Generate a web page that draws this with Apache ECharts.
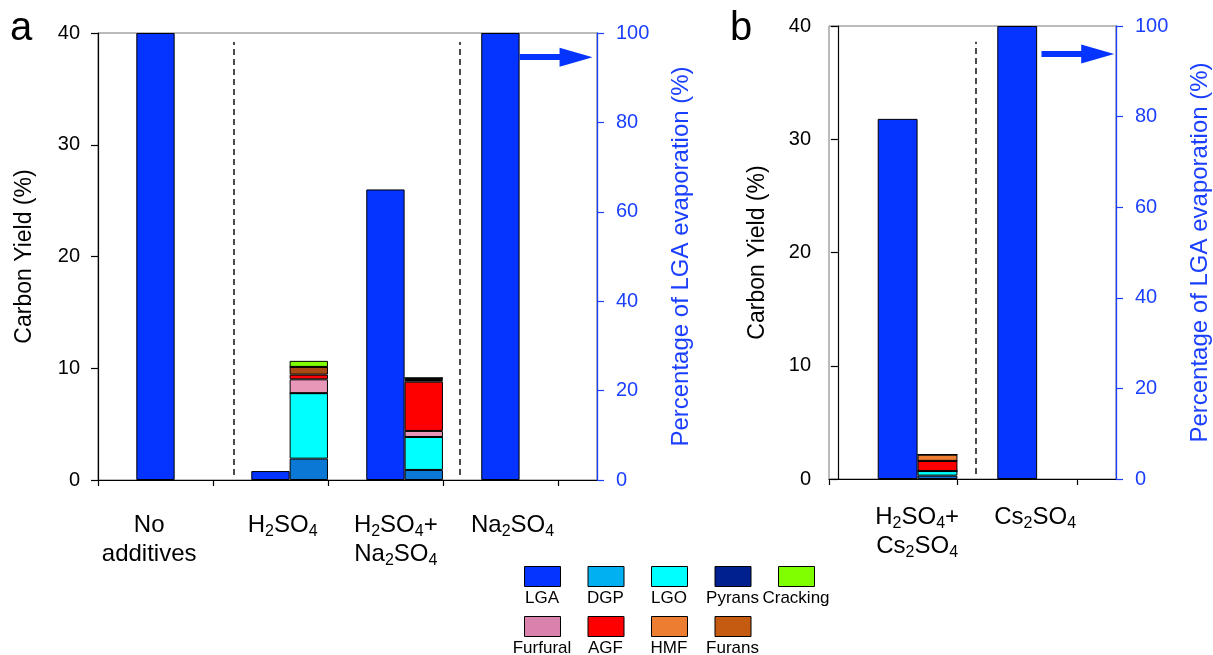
<!DOCTYPE html>
<html>
<head>
<meta charset="utf-8">
<title>Carbon yield</title>
<script src="https://cdn.jsdelivr.net/npm/echarts@6/dist/echarts.min.js"></script>
<style>
html, body { margin: 0; padding: 0; background: #fff; }
#chart { width: 1213px; height: 655px; }
</style>
</head>
<body>
<div id="chart"></div>
<script>
// ---- data ----
// labels use rich text, {s|..} = subscript
var catsA = ['No\nadditives', 'H{s|2}SO{s|4}', 'H{s|2}SO{s|4}+\nNa{s|2}SO{s|4}', 'Na{s|2}SO{s|4}'];
var catsB = ['H{s|2}SO{s|4}+\nCs{s|2}SO{s|4}', 'Cs{s|2}SO{s|4}'];
// where the figure puts the category labels (axis units)
var labelPosA = [0.445, 1.606, 2.59, 3.606];
var labelPosB = [0.663, 1.65];

var lgaA = [40, 0.8, 26.0, 40];
var dgpA = [null, 1.91, 0.9, null];
var lgoA = [null, 5.86, 2.95, null];
var pyransA = [null, 0, 0, null];
var furfuralA = [null, 1.24, 0.54, null];
var agfA = [null, 0.42, 4.41, null];
var furansA = [null, 0.69, 0.15, null];
var hmfA = [null, 0, 0.18, null];
var crackingA = [null, 0.54, 0, null];

var lgaB = [31.8, 40];
var dgpB = [0.3, null];
var lgoB = [0.4, null];
var pyransB = [0, null];
var furfuralB = [0, null];
var agfB = [0.9, null];
var furansB = [0, null];
var hmfB = [0.55, null];
var crackingB = [0, null];

var yTicks = [0, 10, 20, 30, 40];
var y2Ticks = [0, 20, 40, 60, 80, 100];
var evapA = 94.6;   // LGA evaporation arrow level (%)
var evapB = 93.8;

var legendRow1 = ['LGA', 'DGP', 'LGO', 'Pyrans', 'Cracking'];
var legendRow2 = ['Furfural', 'AGF', 'HMF', 'Furans'];

// ---- styles ----
var font = '"Liberation Sans", Arial, sans-serif';
var blue = '#0533ff';
var axisBlue = '#1a3fff';
var barColors = {
    LGA: blue, DGP: '#0a78d4', LGO: '#00ffff', Pyrans: '#002090', Furfural: '#e897b9',
    AGF: '#ff0000', Furans: '#a84a14', HMF: '#ed7d31', Cracking: '#80ff00'
};
var legendColors = {
    LGA: blue, DGP: '#00b0f0', LGO: '#00ffff', Pyrans: '#002090', Cracking: '#80ff00',
    Furfural: '#d882ad', AGF: '#ff0000', HMF: '#ed7d31', Furans: '#c55a11'
};

// stack order bottom -> top
var products = [
    {name: 'DGP', a: dgpA, b: dgpB},
    {name: 'LGO', a: lgoA, b: lgoB},
    {name: 'Pyrans', a: pyransA, b: pyransB},
    {name: 'Furfural', a: furfuralA, b: furfuralB},
    {name: 'AGF', a: agfA, b: agfB},
    {name: 'Furans', a: furansA, b: furansB},
    {name: 'HMF', a: hmfA, b: hmfB},
    {name: 'Cracking', a: crackingA, b: crackingB}
];

var gridA = {left: 98, top: 33, width: 499, height: 447};
var gridB = {left: 829, top: 26, width: 287, height: 453};
var xMinA = 0, xMaxA = 4.34;
var xMinB = -0.074, xMaxB = 2.326;
var PAIR = 2 / 3;   // bar pair sits in the right two thirds of each slot
var barA = gridA.width / (xMaxA - xMinA) / 3;
var barB = gridB.width / (xMaxB - xMinB) / 3;

// rows are [value, x] so the value column is the one that gets stacked
function rows(vals) {
    return vals.map(function (v, i) { return [v, i + PAIR]; });
}

var richSub = {s: {fontSize: 16, lineHeight: 14, verticalAlign: 'bottom', fontFamily: font}};

function xAxisFor(idx, min, max, ticks, labelPos, cats, margin) {
    return {
        gridIndex: idx, type: 'value', min: min, max: max,
        axisLine: {show: true, onZero: false, lineStyle: {color: '#000', width: 1.2}},
        axisTick: {show: true, customValues: ticks, length: 6, lineStyle: {color: '#000', width: 1.2}},
        axisLabel: {
            show: true, customValues: labelPos, margin: margin,
            fontSize: 24, lineHeight: 29, color: '#000', fontFamily: font, rich: richSub,
            formatter: function (v) {
                var k = 0;
                labelPos.forEach(function (p, i) { if (Math.abs(p - v) < 1e-6) k = i; });
                return cats[k];
            }
        },
        splitLine: {show: false}
    };
}

function leftAxis(idx, gap) {
    return {
        gridIndex: idx, type: 'value', position: 'left',
        min: yTicks[0], max: yTicks[yTicks.length - 1], interval: yTicks[1] - yTicks[0],
        name: 'Carbon Yield (%)', nameLocation: 'middle', nameGap: gap, nameMoveOverlap: false,
        nameTextStyle: {fontSize: 23, color: '#000', fontFamily: font},
        axisLine: {show: true, lineStyle: {color: '#000', width: 1.2}},
        axisTick: {show: true, length: 7, lineStyle: {color: '#000', width: 1.2}},
        axisLabel: {fontSize: 20, margin: 18, color: '#000', fontFamily: font},
        splitLine: {show: false}
    };
}

function rightAxis(idx, gap) {
    return {
        gridIndex: idx, type: 'value', position: 'right',
        min: y2Ticks[0], max: y2Ticks[y2Ticks.length - 1], interval: y2Ticks[1] - y2Ticks[0],
        name: 'Percentage of LGA evaporation (%)', nameLocation: 'middle', nameGap: gap, nameMoveOverlap: false,
        nameTextStyle: {fontSize: 24, color: axisBlue, fontFamily: font},
        axisLine: {show: true, lineStyle: {color: axisBlue, width: 1.3}},
        axisTick: {show: true, length: 7, lineStyle: {color: axisBlue, width: 1.2}},
        axisLabel: {fontSize: 20, margin: 19, color: axisBlue, fontFamily: font},
        splitLine: {show: false}
    };
}

function panelSeries(key, xIdx, yIdx, y2Idx, lga, bw, divX, divY, arrow) {
    var out = [];
    out.push({
        type: 'bar', name: 'LGA', xAxisIndex: xIdx, yAxisIndex: yIdx, stack: 'lga' + key,
        barWidth: bw, barGap: '0%', encode: {x: 1, y: 0},
        itemStyle: {color: barColors.LGA, borderColor: '#000', borderWidth: 1},
        data: rows(lga)
    });
    products.forEach(function (p) {
        out.push({
            type: 'bar', name: p.name, xAxisIndex: xIdx, yAxisIndex: yIdx, stack: 'prod' + key,
            barWidth: bw, barGap: '0%', encode: {x: 1, y: 0},
            itemStyle: {color: barColors[p.name], borderColor: '#000', borderWidth: 1},
            data: rows(p[key])
        });
    });
    // dashed separators
    out.push({
        type: 'line', name: 'div' + key, xAxisIndex: xIdx, yAxisIndex: yIdx, data: [],
        markLine: {
            silent: true, symbol: 'none', label: {show: false},
            lineStyle: {type: [6, 4], color: '#111', width: 1.5},
            data: divX.map(function (x) { return [{coord: [x, divY[0]]}, {coord: [x, divY[1]]}]; })
        }
    });
    // evaporation arrow, read on the right axis
    out.push({
        type: 'line', name: 'arrow' + key, xAxisIndex: xIdx, yAxisIndex: y2Idx, data: [],
        markLine: {
            silent: true, label: {show: false},
            symbol: ['none', 'triangle'], symbolSize: [19, 33],
            lineStyle: {type: 'solid', color: blue, width: 6},
            data: [[{coord: [arrow[0], arrow[2]]}, {coord: [arrow[1], arrow[2]]}]]
        }
    });
    return out;
}

var series = [].concat(
    panelSeries('a', 0, 0, 1, lgaA, barA, [1.183, 3.145], [0.45, 39.2], [3.667, 4.158, evapA]),
    panelSeries('b', 1, 2, 3, lgaB, barB, [1.156], [0.45, 38.6], [1.703, 2.173, evapB])
);

// legend drawn as swatch above its label
var graphics = [];
function legendRow(names, top) {
    names.forEach(function (n, i) {
        var x = 524 + i * 63.5;
        graphics.push({
            type: 'rect', left: x, top: top, silent: true,
            shape: {width: 36, height: 20},
            style: {fill: legendColors[n], stroke: '#000', lineWidth: 1}
        });
        graphics.push({
            type: 'text', silent: true, x: x + 18, y: top + 32,
            style: {text: n, font: '17px ' + font, fill: '#000', align: 'center', verticalAlign: 'middle'}
        });
    });
}
legendRow(legendRow1, 566);
legendRow(legendRow2, 616);
graphics.push({type: 'text', left: 10, top: 9, style: {text: 'a', font: '40px ' + font, fill: '#000'}});
graphics.push({type: 'text', left: 730, top: 9, style: {text: 'b', font: '40px ' + font, fill: '#000'}});

var chart = echarts.init(document.getElementById('chart'));
chart.setOption({
    animation: false,
    backgroundColor: '#fff',
    textStyle: {fontFamily: font},
    grid: [
        Object.assign({show: true, borderColor: '#777', borderWidth: 1, outerBoundsMode: 'none', containLabel: false}, gridA),
        Object.assign({show: true, borderColor: '#777', borderWidth: 1, outerBoundsMode: 'none', containLabel: false}, gridB)
    ],
    xAxis: [
        xAxisFor(0, xMinA, xMaxA, [0, 1, 2, 3, 4], labelPosA, catsA, 31),
        xAxisFor(1, xMinB, xMaxB, [xMinB, 1, 2], labelPosB, catsB, 24)
    ],
    yAxis: [leftAxis(0, 62), rightAxis(0, 72), leftAxis(1, 60), rightAxis(1, 72)],
    series: series,
    graphic: graphics
});
window.addEventListener('resize', function () { chart.resize(); });
</script>
</body>
</html>
